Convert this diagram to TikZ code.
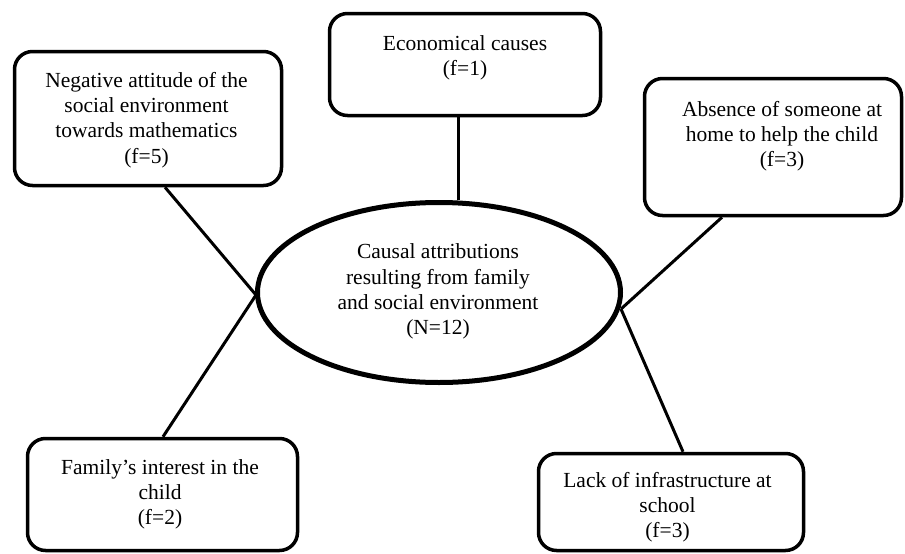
\documentclass[tikz,border=0pt]{standalone}
\usepackage{fontspec}
\setmainfont{Liberation Serif}
\usetikzlibrary{shapes.geometric}
\begin{document}
\begin{tikzpicture}[x=1pt,y=-1pt,
  cbox/.style={draw=black, line width=3.5pt, rounded corners=18pt, inner sep=0pt},
  ctext/.style={align=center, inner sep=0pt, font=\fontsize{21.5}{25.2}\selectfont},
  centre/.style={draw=black, ellipse, line width=5pt, inner sep=0pt},
  link/.style={draw=black, line width=3pt}]
\useasboundingbox (0,0) rectangle (905,554);
% boxes
\node[cbox, minimum width=267pt, minimum height=134pt] (b1) at (148,118.5) {};
\node[cbox, minimum width=271pt, minimum height=102pt] (b2) at (465,64.5) {};
\node[cbox, minimum width=257pt, minimum height=137pt] (b3) at (773,147) {};
\node[cbox, minimum width=270pt, minimum height=112pt] (b4) at (162.5,494.5) {};
\node[cbox, minimum width=265pt, minimum height=97pt] (b5) at (671,502) {};
\node[centre, minimum width=363pt, minimum height=180pt] (c) at (439,292.5) {};
% texts
\node[ctext] (t1) at (146.5,120) {Negative attitude of the\\social environment\\towards mathematics\\(f=5)};
\node[ctext] (t2) at (465,57.5) {Economical causes\\(f=1)};
\node[ctext] (t3) at (782,136) {Absence of someone at\\home to help the child\\(f=3)};
\node[ctext] (t4) at (160,494.5) {Family’s interest in the\\child\\(f=2)};
\node[ctext] (t5) at (667.5,507.5) {Lack of infrastructure at\\school\\(f=3)};
\node[ctext] (tc) at (438,291.5) {Causal attributions\\resulting from family\\and social environment\\(N=12)};
% connection points
\coordinate (cl) at (256,295);
\coordinate (cr) at (621,309);
% connectors
\draw[link] ([xshift=17pt]b1.south) -- (cl);
\draw[link] ([xshift=0.5pt]b4.north) -- (cl);
\draw[link] ([xshift=-7pt]b2.south) -- ([xshift=19pt]c.north);
\draw[link] ([xshift=-51pt]b3.south) -- (cr);
\draw[link] ([xshift=12pt]b5.north) -- (cr);
\end{tikzpicture}
\end{document}
